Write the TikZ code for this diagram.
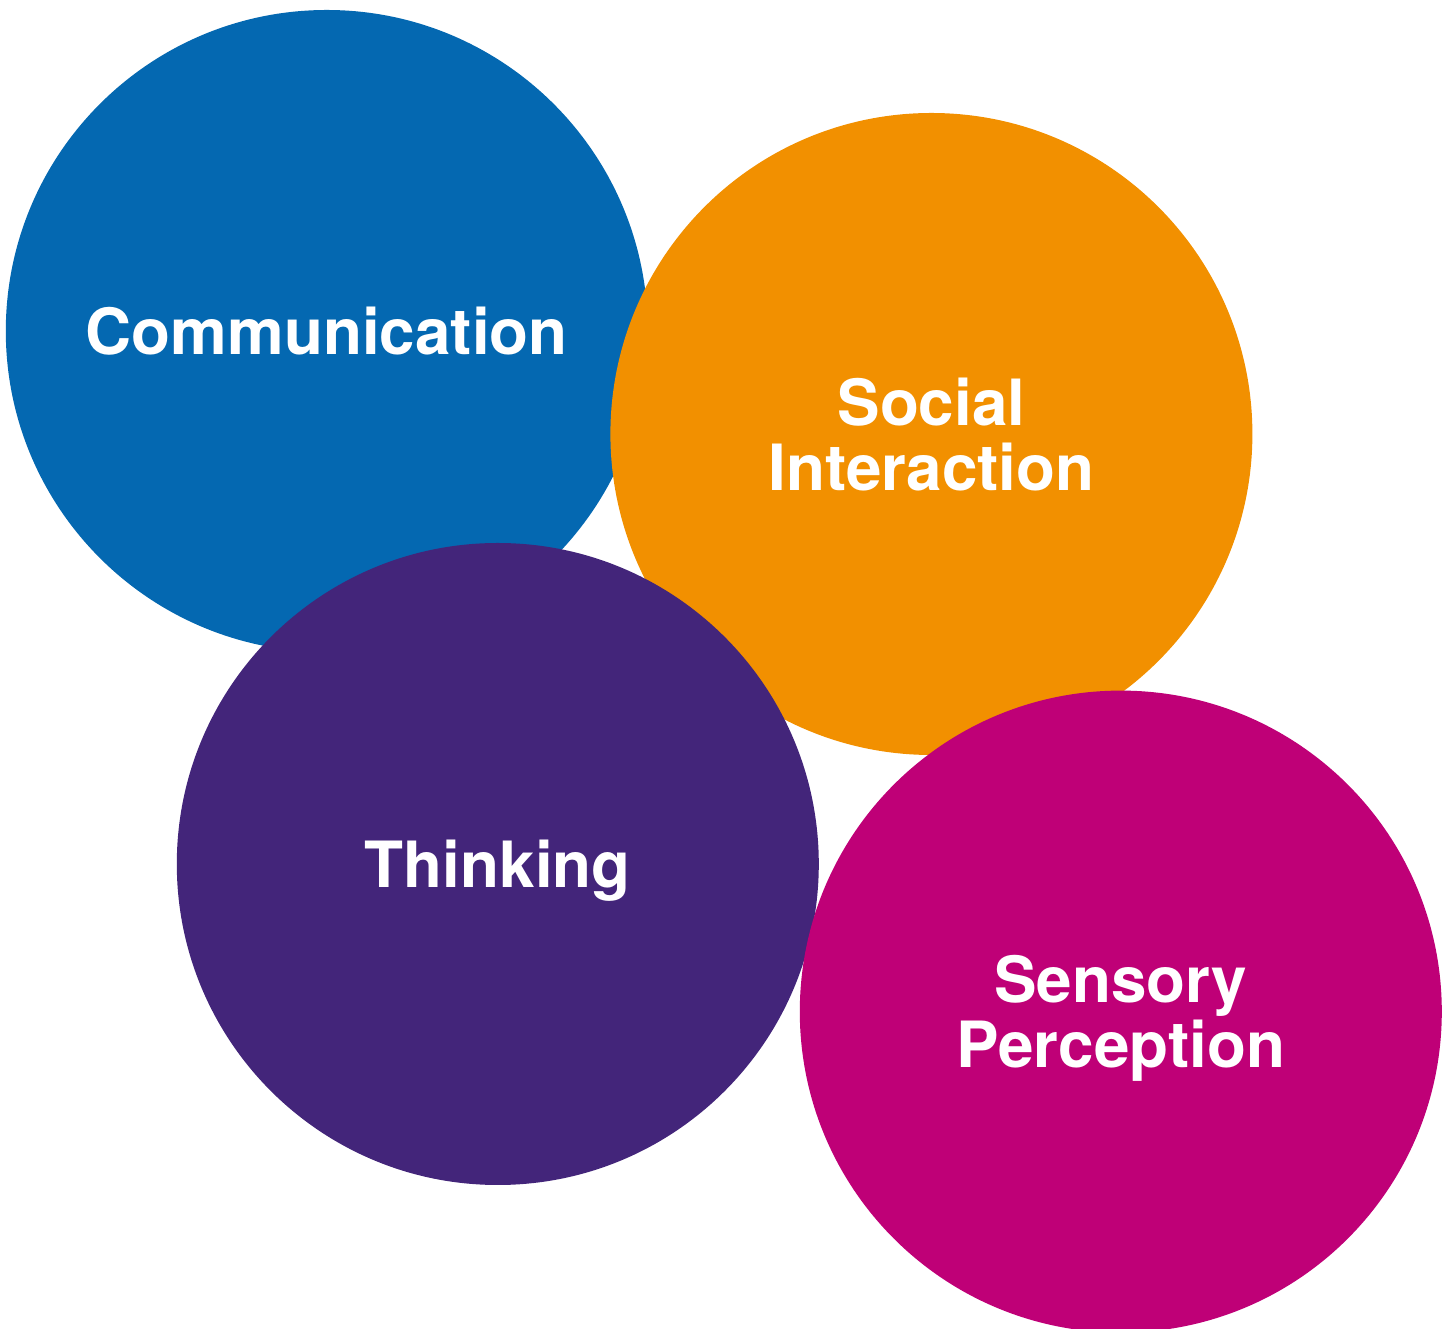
\documentclass[tikz,border=0pt]{standalone}
\usepackage{fontspec}
\setmainfont{TeX Gyre Heros}
\definecolor{commblue}{HTML}{0468B1}
\definecolor{socorange}{HTML}{F29000}
\definecolor{thinkpurple}{HTML}{43257A}
\definecolor{sensmagenta}{HTML}{BF0077}
\tikzset{
  bubble/.style={circle,draw=none,minimum size=321bp,inner sep=0pt,
    text=white,align=center,font=\fontsize{32}{32.5}\selectfont\bfseries,
    text depth=0pt},
}
\begin{document}
\begin{tikzpicture}[line join=bevel,]
\useasboundingbox (0bp,0bp) rectangle (726.5bp,664.5bp);
%%
\node (node_0) at (163.4bp,499.0bp) [bubble,fill=commblue] {Communication};
  \node (node_1) at (465.7bp,447.5bp) [bubble,fill=socorange] {Social\\Interaction};
  \node (node_2) at (248.9bp,232.5bp) [bubble,fill=thinkpurple] {Thinking};
  \node (node_3) at (560.4bp,158.7bp) [bubble,fill=sensmagenta] {Sensory\\Perception};
%
\end{tikzpicture}
\end{document}
